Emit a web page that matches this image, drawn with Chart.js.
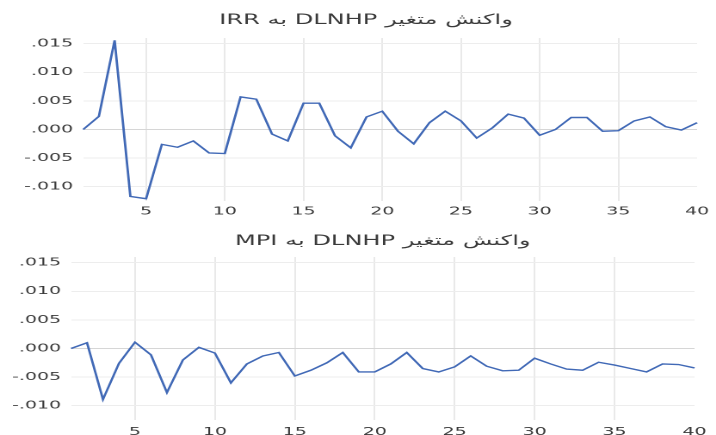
<!DOCTYPE html>
<html>
<head>
<meta charset="utf-8">
<script src="https://cdn.jsdelivr.net/npm/chart.js@4"></script>
<style>
	html, body { margin: 0; padding: 0; background: #fff; }
	body { width: 716px; height: 435px; position: relative; overflow: hidden; }
	/* the source picture is stretched sideways, so each chart is drawn narrow and widened */
	.box { position: absolute; left: 0; width: 416px; transform: scaleX(1.7212); transform-origin: 0 0; }
	#box-1 { top: 0; height: 218px; }
	#box-2 { top: 218px; height: 217px; }
</style>
</head>
<body>
<div class="box" id="box-1"><canvas id="chart-1"></canvas></div>
<div class="box" id="box-2"><canvas id="chart-2"></canvas></div>
<script>
/* ----- Data ----- */

// Periods
const periods = Array.from({ length: 40 }, (_, i) => String(i + 1));

// Titles
const titleIrr = '\u202Bواکنش متغیر DLNHP به IRR\u202C';
const titleMpi = '\u202Bواکنش متغیر DLNHP به MPI\u202C';

// Response of DLNHP to IRR
const irrValues = [
	0.0000, 0.0023, 0.0156, -0.0117, -0.0121, -0.0026, -0.0031, -0.0020, -0.0041, -0.0042,
	0.0057, 0.0053, -0.0008, -0.0020, 0.0046, 0.0046, -0.0011, -0.0032, 0.0022, 0.0032,
	-0.0003, -0.0025, 0.0012, 0.0032, 0.0015, -0.0015, 0.0003, 0.0027, 0.0020, -0.0010,
	0.0000, 0.0021, 0.0021, -0.0003, -0.0002, 0.0015, 0.0022, 0.0005, -0.0001, 0.0012
];

// Response of DLNHP to MPI
const mpiValues = [
	0.0000, 0.0010, -0.0089, -0.0026, 0.0011, -0.0011, -0.0077, -0.0020, 0.0002, -0.0008,
	-0.0060, -0.0027, -0.0013, -0.0007, -0.0048, -0.0038, -0.0025, -0.0007, -0.0041, -0.0041,
	-0.0027, -0.0007, -0.0035, -0.0041, -0.0032, -0.0013, -0.0031, -0.0039, -0.0038, -0.0017,
	-0.0027, -0.0036, -0.0038, -0.0024, -0.0029, -0.0035, -0.0041, -0.0027, -0.0028, -0.0034
];

// Y ticks
const yTicks = [-0.010, -0.005, 0.000, 0.005, 0.010, 0.015];

/* ----- Helpers ----- */

const formatTick = value => {
	if (Math.abs(value) < 1e-9) return '.000';
	return value.toFixed(3).replace('0.', '.');
};

const textColour = '#3a3a3a';
const lineColour = '#4169b6';
const tickFont = { family: 'DejaVu Sans', size: 11 };

/* ----- Define Charts ----- */

const makeChart = (id, title, values, s) => new Chart(document.getElementById(id), {
	type: 'line',
	data: {
		labels: periods,
		datasets: [{
			data: values,
			borderColor: lineColour,
			borderWidth: 1.4,
			pointRadius: 0,
			tension: 0,
			fill: false
		}]
	},
	options: {
		responsive: true,
		maintainAspectRatio: false,
		devicePixelRatio: 2,
		animation: false,
		events: [],
		layout: {
			padding: { left: s.padLeft, right: s.padRight, top: 0, bottom: 0 }
		},
		plugins: {
			legend: { display: false },
			tooltip: { enabled: false },
			title: {
				display: true,
				fullSize: s.titleFull,
				text: title,
				color: textColour,
				font: { family: 'DejaVu Sans', size: 14, weight: 'normal', lineHeight: 1.2 },
				padding: { top: s.titleTop, bottom: s.titleBottom }
			}
		},
		scales: {
			x: {
				type: 'category',
				offset: false,
				border: { display: false },
				grid: {
					drawTicks: false,
					color: ctx => ((ctx.index + 1) % 5 === 0 && ctx.index < 39) ? '#e9e9e9' : 'rgba(0,0,0,0)'
				},
				ticks: {
					autoSkip: false,
					maxRotation: 0,
					padding: s.xPad,
					color: textColour,
					font: tickFont,
					callback: (value, index) => (index + 1) % 5 === 0 ? periods[index] : ''
				},
				afterFit: scale => { scale.height = s.xHeight; }
			},
			y: {
				min: -0.0125,
				max: 0.016,
				border: { display: false },
				grid: {
					drawTicks: false,
					color: ctx => Math.abs(ctx.tick.value) < 1e-9 ? '#d6d6d6' : '#ededed'
				},
				ticks: {
					stepSize: 0.005,
					padding: 5.8,
					color: textColour,
					font: tickFont,
					callback: value => formatTick(value)
				},
				afterBuildTicks: scale => {
					scale.ticks = yTicks.map(value => ({ value }));
				},
				afterFit: scale => { scale.width = s.yWidth; }
			}
		}
	}
});

const charts = [];

// Chart 1
charts[0] = makeChart('chart-1', titleIrr, irrValues, {
	padLeft: 14, padRight: 4.7, yWidth: 34.3, titleFull: true,
	titleTop: 12.1, titleBottom: 9.1,
	xHeight: 17, xPad: 4
});

// Chart 2
charts[1] = makeChart('chart-2', titleMpi, mpiValues, {
	padLeft: 0, padRight: 11, yWidth: 41.25, titleFull: false,
	titleTop: 14.9, titleBottom: 7.3,
	xHeight: 15, xPad: 5.5
});
</script>
</body>
</html>
